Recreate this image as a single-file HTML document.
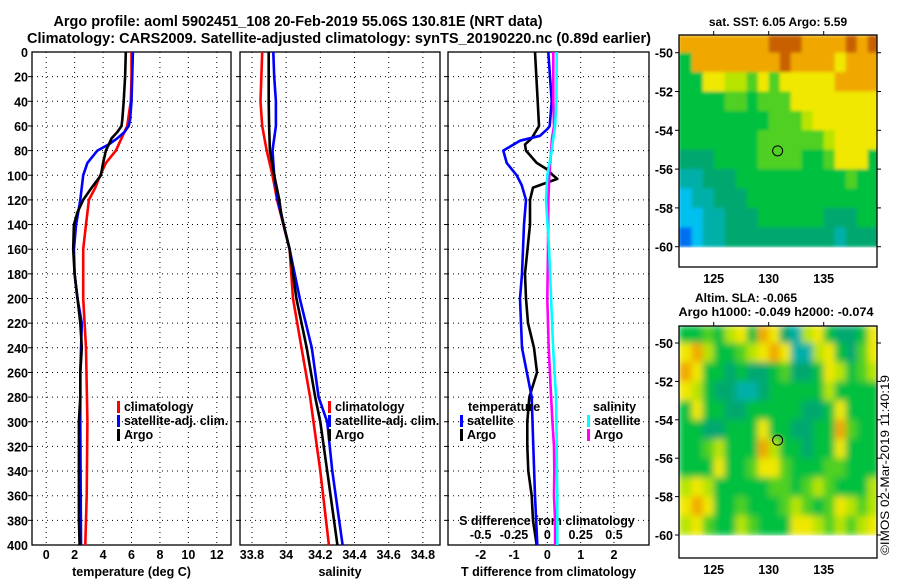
<!DOCTYPE html>
<html><head><meta charset="utf-8"><style>
html,body{margin:0;padding:0;background:#fff;}
svg{display:block;font-family:"Liberation Sans",sans-serif;font-weight:bold;}
</style></head><body>
<svg id="fig" width="900" height="580" viewBox="0 0 900 580" xmlns="http://www.w3.org/2000/svg">
<defs>
<filter id="blur" x="0" y="0" width="1" height="1"><feGaussianBlur stdDeviation="3.5" edgeMode="duplicate"/></filter>
<filter id="blur1" x="0" y="0" width="1" height="1"><feGaussianBlur stdDeviation="1.5" edgeMode="duplicate"/></filter>
<clipPath id="clipM2"><rect x="679" y="326" width="198" height="212"/></clipPath>
<clipPath id="clipM1"><rect x="679" y="35" width="198" height="213"/></clipPath>
</defs>
<text x="298" y="26" font-size="14.5" text-anchor="middle" textLength="489" lengthAdjust="spacingAndGlyphs">Argo profile: aoml 5902451_108 20-Feb-2019 55.06S 130.81E (NRT data)</text>
<text x="339" y="43" font-size="14.5" text-anchor="middle" textLength="624" lengthAdjust="spacingAndGlyphs">Climatology: CARS2009. Satellite-adjusted climatology: synTS_20190220.nc (0.89d earlier)</text>
<g id="g"></g>
<text x="778" y="26" font-size="12" text-anchor="middle">sat. SST: 6.05 Argo: 5.59</text>
<text x="695" y="302" font-size="12">Altim. SLA: -0.065</text>
<text x="776" y="316" font-size="12" text-anchor="middle" textLength="195" lengthAdjust="spacingAndGlyphs">Argo h1000: -0.049 h2000: -0.074</text>
<text transform="translate(889,555) rotate(-90)" font-size="11.5" font-weight="normal" textLength="180" lengthAdjust="spacingAndGlyphs">©IMOS 02-Mar-2019 11:40:19</text>
</svg>
<script>
// ---------- data ----------
const tempDepthArgo = [0,20,40,55,60,65,70,75,80,90,100,110,120,130,140,160,180,200,220,240,260,280,300,340,380,400];
const tempArgo      = [5.6,5.55,5.45,5.35,5.3,5.0,4.6,4.4,4.2,4.0,3.85,3.2,2.6,2.2,1.95,1.9,2.0,2.2,2.4,2.5,2.4,2.4,2.3,2.3,2.3,2.35];
const tempDepthClim = [0,20,40,60,70,80,90,100,110,120,140,160,200,240,300,360,400];
const tempClim      = [6.0,6.0,5.95,5.7,5.3,4.9,4.2,3.8,3.45,3.0,2.8,2.6,2.6,2.8,2.9,2.85,2.75];
const tempDepthSat  = [0,20,40,55,60,65,70,75,80,90,100,120,140,160,180,200,220,260,300,400];
const tempSat       = [6.1,6.05,6.0,5.9,5.8,5.5,5.0,4.4,3.6,2.9,2.6,2.4,2.1,1.95,2.0,2.2,2.5,2.4,2.4,2.45];
const salDepthArgo  = [0,40,60,80,100,120,130,140,160,200,240,280,300,340,400];
const salArgo       = [33.898,33.898,33.9,33.905,33.93,33.96,33.97,33.985,34.02,34.06,34.12,34.17,34.2,34.24,34.3];
const salDepthClim  = [0,40,60,80,100,120,160,200,240,280,300,340,400];
const salClim       = [33.86,33.85,33.86,33.886,33.92,33.947,34.02,34.04,34.09,34.14,34.16,34.2,34.25];
const salDepthSat   = [0,20,40,60,80,100,120,160,200,240,280,300,340,400];
const salSat        = [33.925,33.93,33.94,33.94,33.92,33.93,33.95,34.02,34.08,34.15,34.19,34.24,34.27,34.33];
const diffDepthT    = [0,40,60,70,75,80,90,95,100,103,110,120,140,180,200,220,240,260,280,300,320,340,360,380,400];
const tDiffArgo     = [-0.37,-0.29,-0.25,-0.47,-0.67,-0.64,-0.32,-0.02,0.17,0.3,-0.43,-0.52,-0.52,-0.67,-0.64,-0.58,-0.4,-0.31,-0.54,-0.6,-0.6,-0.57,-0.47,-0.43,-0.32];
const diffDepthTS   = [0,40,60,62,68,72,80,90,100,108,120,140,180,200,240,280,320,360,400];
const tDiffSat      = [0.03,0.13,0.07,0.02,-0.22,-0.82,-1.32,-1.22,-0.92,-0.77,-0.64,-0.7,-0.76,-0.82,-0.76,-0.47,-0.42,-0.37,-0.3];
const diffDepthS    = [0,40,60,70,80,100,120,160,200,240,280,300,320,340,360,380,400];
const sDiffArgo     = [0.045,0.045,0.05,0.035,0.028,0.015,0.008,0.005,0.0,0.01,0.028,0.038,0.05,0.052,0.05,0.058,0.058];
const sDiffSat      = [0.07,0.068,0.058,0.045,0.033,0.0,-0.01,0.013,0.028,0.043,0.065,0.068,0.07,0.072,0.075,0.075,0.075];
const tempTicks = [0,2,4,6,8,10,12];
const salTicks  = [33.8,34,34.2,34.4,34.6,34.8];
const tdTicks   = [-2,-1,0,1,2];
const sdTicks   = [-0.5,-0.25,0,0.25,0.5];
const depthTicks = [0,20,40,60,80,100,120,140,160,180,200,220,240,260,280,300,320,340,360,380,400];
const latTicks = [-50,-52,-54,-56,-58,-60];
const lonTicks = [125,130,135];
// SST map grid rows (lat -49.1 .. -60), cols lon 122..139, colour index hex
const sstRows = ["99999999aaa9999a9a","599999999a99998999","558877686888889999","555566566688888888","555555556667888888","555555566666678888","444555566665568885","334445555555555655","233444555555555555","223344455555544455","123344444444443444"];
const slaRows = ["556578598437854458","897556789833785468","985545445644587567","875443345555575555","585544555554458555","554455585544559655","556755597554558555","555855688655566555","787555556656765557","898556555676568767","786557655588767678"];
const palette = ["#0028c8","#0070f0","#00c0f0","#00b0a8","#00a870","#00c040","#50d020","#b8e400","#f0e800","#f0a800","#c86000"];

const NS = "http://www.w3.org/2000/svg";
const g = document.getElementById('g');
function mk(tag, attrs, parent){ const e=document.createElementNS(NS,tag); for(const k in attrs) e.setAttribute(k,attrs[k]); (parent||g).appendChild(e); return e; }
function txt(x,y,s,size,anchor,parent){ const t=mk('text',{x:x,y:y,'font-size':size,'text-anchor':anchor||'middle'},parent); t.textContent=s; return t; }

const top0=52, bot0=545;
const yD = d => top0 + d*(bot0-top0)/400;
const panels = [
 {x0:32,x1:231,min:-1,max:13,ticks:tempTicks,title:'temperature (deg C)',name:'temperature-panel'},
 {x0:240,x1:440,min:33.73,max:34.9,ticks:salTicks,title:'salinity',name:'salinity-panel'},
 {x0:448,x1:649,min:-2.98,max:3.05,ticks:tdTicks,title:'T difference from climatology',name:'difference-panel'}
];
const xS = (p,v) => p.x0 + (v-p.min)*(p.x1-p.x0)/(p.max-p.min);
const xSd = v => xS(panels[2], v*4);

panels.forEach((p,i)=>{
  const pg = mk('g',{});
  
  
  depthTicks.slice(1,-1).forEach(d=>{
    const l=mk('line',{x1:p.x0,x2:p.x1,y1:yD(d),y2:yD(d),stroke:'#000','stroke-width':1,'stroke-dasharray':'1 4'},pg);
    
    
    mk('line',{x1:p.x0-4,x2:p.x0,y1:yD(d),y2:yD(d),stroke:'#000'},pg);
  });
  p.ticks.forEach(v=>{
    const x=xS(p,v);
    const l=mk('line',{x1:x,x2:x,y1:top0,y2:bot0,stroke:'#000','stroke-width':1,'stroke-dasharray':'1 4'},pg);
    
    
    const t=txt(x,559,String(v),12.5,'middle',pg);
    
    
  });
  const b=mk('rect',{x:p.x0,y:top0,width:p.x1-p.x0,height:bot0-top0,fill:'none',stroke:'#000','stroke-width':1.3},pg);
  
  
  const at=txt((p.x0+p.x1)/2,576,p.title,12.5,'middle',pg);
  
  
});
depthTicks.forEach(d=>{
  const t=txt(28,yD(d)+5,String(d),12.5,'end');
  
  
});
sdTicks.forEach(v=>{
  const t=txt(xSd(v),539,String(v),12.5,'middle');
  
  
});
{const t=txt(547,525,'S difference from climatology',12.5,'middle');

}

function line(depths, vals, fx, color, name){
  const pts = depths.map((d,i)=>fx(vals[i]).toFixed(1)+','+yD(d).toFixed(1)).join(' ');
  const pl=mk('polyline',{points:pts,fill:'none',stroke:color,'stroke-width':2.6,'stroke-linejoin':'round'});
  
  
}
line(tempDepthClim,tempClim,v=>xS(panels[0],v),'#ff0000','temp-climatology-line');
line(tempDepthSat,tempSat,v=>xS(panels[0],v),'#0000ff','temp-satellite-line');
line(tempDepthArgo,tempArgo,v=>xS(panels[0],v),'#000000','temp-argo-line');
line(salDepthClim,salClim,v=>xS(panels[1],v),'#ff0000','sal-climatology-line');
line(salDepthSat,salSat,v=>xS(panels[1],v),'#0000ff','sal-satellite-line');
line(salDepthArgo,salArgo,v=>xS(panels[1],v),'#000000','sal-argo-line');
line(diffDepthT,tDiffArgo,v=>xS(panels[2],v),'#000000','t-diff-argo-line');
line(diffDepthTS,tDiffSat,v=>xS(panels[2],v),'#0000ff','t-diff-satellite-line');
line(diffDepthS,sDiffArgo,xSd,'#ff00ff','s-diff-argo-line');
line(diffDepthS,sDiffSat,xSd,'#00ffff','s-diff-satellite-line');

function legend(x,y,color,label){
  const lg=mk('g',{});
  
  
  mk('rect',{x:x,y:y-10,width:3,height:12,fill:color},lg);
  txt(x+7,y,label,12.5,'start',lg);
}
legend(117,411,'#ff0000','climatology');
legend(117,425,'#0000ff','satellite-adj. clim.');
legend(117,439,'#000000','Argo');
legend(328,411,'#ff0000','climatology');
legend(328,425,'#0000ff','satellite-adj. clim.');
legend(328,439,'#000000','Argo');
{const t=txt(468,411,'temperature',12.5,'start');}
legend(460,425,'#0000ff','satellite');
legend(460,439,'#000000','Argo');
{const t=txt(593,411,'salinity',12.5,'start');}
legend(587,425,'#00ffff','satellite');
legend(587,439,'#ff00ff','Argo');

// ---------- maps ----------
const lonX = lon => 768.7 + (lon-130)*11;
function drawMap(rows, top, latY, boxBottom, filt, clip, name){
  const mg = mk('g',{});
  
  
  const cells = mk('g', {filter:filt,'clip-path':clip}, mg);
  rows.forEach((r,ri)=>{
    const latTop = ri===0 ? -49.1 : -49-ri;
    const latBot = -50-ri;
    for(let ci=0; ci<r.length; ci++){
      const lonL = ci===0 ? 121.8 : 122+ci;
      const lonR = 123+ci;
      const c=mk('rect',{x:lonX(lonL),y:latY(latTop),width:lonX(lonR)-lonX(lonL)+0.5,height:latY(latBot)-latY(latTop)+0.5,fill:palette[parseInt(r[ci],16)]},cells);
      
      
    }
  });
  const fr=mk('rect',{x:679,y:top,width:198,height:boxBottom-top,fill:'none',stroke:'#000','stroke-width':1.3},mg);
  
  
  latTicks.forEach(l=>{
    mk('line',{x1:675,x2:679,y1:latY(l),y2:latY(l),stroke:'#000'},mg);
    mk('line',{x1:877,x2:881,y1:latY(l),y2:latY(l),stroke:'#000'},mg);
    const t=txt(673,latY(l)+5,String(l),12.5,'end',mg);
    
    
  });
  lonTicks.forEach(l=>{
    mk('line',{x1:lonX(l),x2:lonX(l),y1:top-4,y2:top,stroke:'#000'},mg);
    const t=txt(lonX(l),boxBottom+16,String(l),12.5,'middle',mg);
    
    
  });
  const ac=mk('circle',{cx:lonX(130.81),cy:latY(-55.06),r:5,fill:'none',stroke:'#000','stroke-width':1},mg);
  
  
}
drawMap(sstRows, 35, lat=>52.7+(-50-lat)*19.4, 267, 'url(#blur1)', 'url(#clipM1)', 'sst-map');
drawMap(slaRows, 326, lat=>343+(-50-lat)*19.2, 558, 'url(#blur)', 'url(#clipM2)', 'sla-map');
</script>
</body></html>
